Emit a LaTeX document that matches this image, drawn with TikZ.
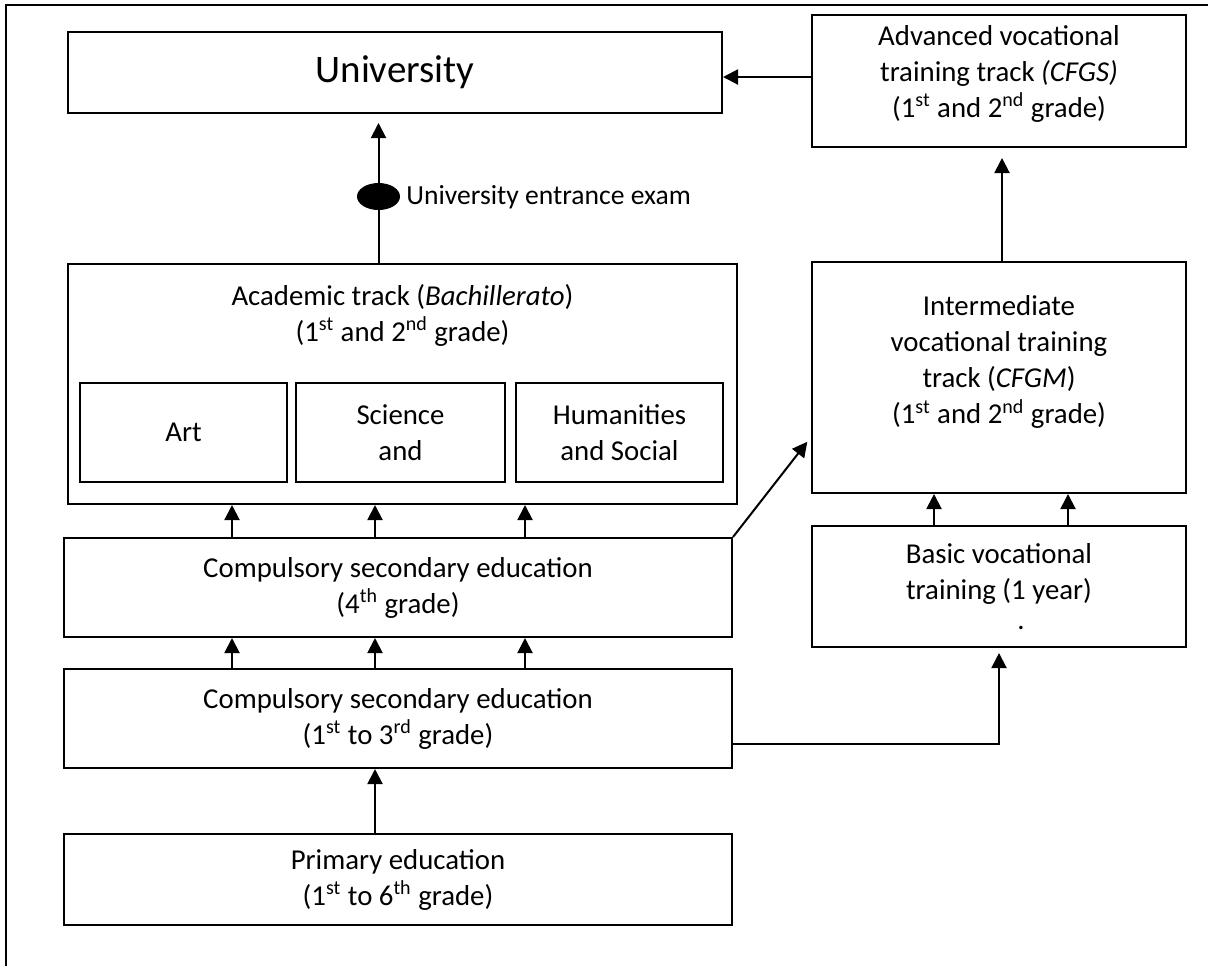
\documentclass[tikz,border=0pt]{standalone}
\usepackage{fontspec}
\setmainfont{Carlito}
\usetikzlibrary{arrows.meta,shapes.geometric}

\begin{document}
\begin{tikzpicture}[x=0.5pt,y=-0.5pt]
\tikzstyle{every node}=[font=\fontsize{14.4}{18}\selectfont, align=center, inner sep=0pt]
\tikzstyle{stage}=[draw, line width=1pt, rectangle]
\tikzstyle{arr}=[line width=1pt, -{Triangle[length=7.5pt,width=7.5pt]}]
\useasboundingbox (0,0) rectangle (1208,966);
\draw[line width=1pt] (6,966) -- (6,5) -- (1208,5);
\node (uni) at (395,72.5) [stage, minimum width=327pt, minimum height=40.5pt, font=\fontsize{19.5}{24}\selectfont] {University};
\node (adv) at (999,81) [stage, minimum width=187pt, minimum height=66pt] {Advanced vocational\\training track \textit{(CFGS)}\\(1\textsuperscript{st} and 2\textsuperscript{nd} grade)\\[-8pt]\mbox{}};
\node (acad) at (402.5,384) [stage, minimum width=334.5pt, minimum height=120pt] {};
\node (acadtxt) at (402.5,315) {Academic track (\textit{Bachillerato})\\(1\textsuperscript{st} and 2\textsuperscript{nd} grade)};
\node (art) at (183.5,432.5) [stage, minimum width=103.5pt, minimum height=49.5pt] {Art};
\node (sci) at (400.5,432.5) [stage, minimum width=104.5pt, minimum height=49.5pt] {Science\\and};
\node (hum) at (619.5,432.5) [stage, minimum width=103.5pt, minimum height=49.5pt] {Humanities\\and Social};
\node (esoa) at (398,587.5) [stage, minimum width=334pt, minimum height=49.5pt] {Compulsory secondary education\\(4\textsuperscript{th} grade)};
\node (esob) at (398,718.5) [stage, minimum width=334pt, minimum height=49.5pt] {Compulsory secondary education\\(1\textsuperscript{st} to 3\textsuperscript{rd} grade)};
\node (prim) at (398,879.5) [stage, minimum width=334pt, minimum height=45.5pt] {Primary education\\(1\textsuperscript{st} to 6\textsuperscript{th} grade)};
\node (inter) at (999,377.5) [stage, minimum width=187pt, minimum height=115.5pt] {Intermediate\\vocational training\\track (\textit{CFGM})\\(1\textsuperscript{st} and 2\textsuperscript{nd} grade)\\\mbox{}};
\node (basic) at (999,586.5) [stage, minimum width=187pt, minimum height=60.5pt] {Basic vocational\\training (1 year)\\[-3pt]\hspace*{22pt}.};
\node (exam) at (378.5,196.5) [ellipse, fill, minimum width=21.5pt, minimum height=13.5pt] {};
\node (examtxt) at (406,197) [anchor=west, font=\fontsize{13.8}{18}\selectfont] {University entrance exam};
\coordinate (c1) at (232,0);
\coordinate (c2) at (375,0);
\coordinate (c3) at (525,0);
\coordinate (v1) at (934,0);
\coordinate (v2) at (1068,0);
\coordinate (up) at (1002,0);
\coordinate (hz) at (0,77);
\coordinate (dg) at (0,437);
\coordinate (turn) at (0,744);
\foreach \col in {c1,c2,c3} {
\draw[arr] (esoa.north -| \col) -- (acad.south -| \col);
\draw[arr] (esob.north -| \col) -- (esoa.south -| \col);
}
\draw[arr] (prim.north -| c2) -- (esob.south -| c2);
\draw[line width=1pt] (acad.north -| exam) -- (exam);
\draw[arr, shorten >=4.5pt] (exam) -- (uni.south -| exam);
\draw[arr] (adv.west |- hz) -- (uni.east |- hz);
\draw[arr, shorten >=5pt] (inter.north -| up) -- (adv.south -| up);
\foreach \col in {v1,v2}
\draw[arr] (basic.north -| \col) -- (inter.south -| \col);
\draw[arr, shorten >=3pt] (esoa.north east) -- (inter.west |- dg);
\draw[arr, shorten >=2.5pt] (esob.east |- turn) -| (basic.south);
\end{tikzpicture}
\end{document}
